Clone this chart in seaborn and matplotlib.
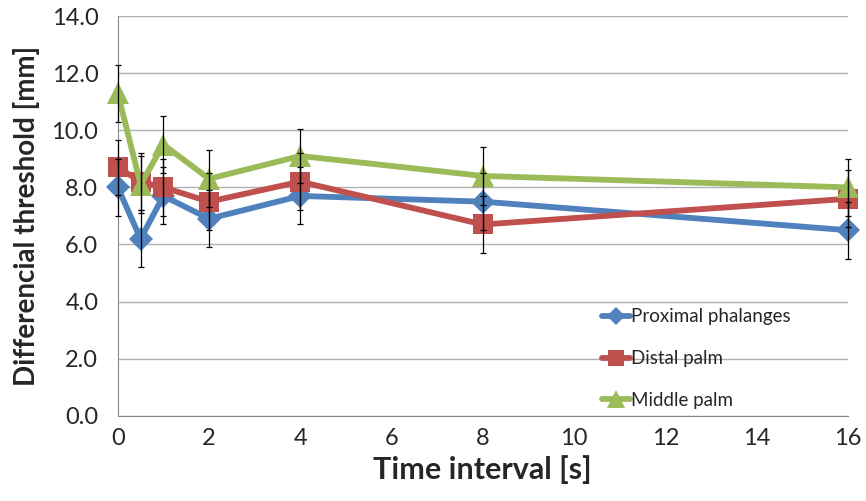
import pandas as pd
import numpy as np
import seaborn as sns
import matplotlib.pyplot as plt
from matplotlib.lines import Line2D

# time intervals [s]
time_s = [0, 0.5, 1, 2, 4, 8, 16]
proximal = [8.0, 6.2, 7.7, 6.9, 7.7, 7.5, 6.5]
distal = [8.7, 8.2, 8.0, 7.5, 8.2, 6.7, 7.6]
middle = [11.3, 8.1, 9.5, 8.3, 9.1, 8.4, 8.0]
proximal_err = [1.0, 1.0, 1.0, 1.0, 1.0, 1.0, 1.0]
distal_err = [0.95, 1.0, 1.0, 1.0, 1.0, 1.0, 1.0]
middle_err = [1.0, 1.0, 1.0, 1.0, 0.95, 1.0, 1.0]
series = ['Proximal phalanges', 'Distal palm', 'Middle palm']

colors = {'Proximal phalanges': '#4F81BD', 'Distal palm': '#C0504D', 'Middle palm': '#9BBB59'}
markers = {'Proximal phalanges': 'D', 'Distal palm': 's', 'Middle palm': '^'}
msizes = {'Proximal phalanges': 12, 'Distal palm': 14, 'Middle palm': 16}

df = pd.DataFrame({
    'time': time_s * 3,
    'value': proximal + distal + middle,
    'err': proximal_err + distal_err + middle_err,
    'series': [s for s in series for _ in time_s],
})

sns.set_style('white')
plt.rcParams['font.family'] = ['Lato', 'DejaVu Sans']

fig = plt.figure(figsize=(8.66, 5.01), dpi=100)
ax = fig.add_axes([0.136, 0.170, 0.843, 0.798])

sns.lineplot(data=df, x='time', y='value', hue='series', style='series',
             palette=colors, markers=markers, dashes=False, linewidth=4.2,
             markersize=12, markeredgewidth=0, ax=ax, legend=False, zorder=3)
# fix marker sizes per series, don't clip at the edges
for line, s in zip(ax.get_lines(), series):
    line.set_markersize(msizes[s])
    line.set_clip_on(False)

for s in series:
    sub = df[df['series'] == s]
    ax.errorbar(sub['time'], sub['value'], yerr=sub['err'], fmt='none',
                ecolor='black', elinewidth=0.9, capsize=2.5, capthick=0.9, zorder=4,
                clip_on=False)

ax.set_xlim(0, 16)
ax.set_ylim(0, 14)
ax.set_xticks(range(0, 17, 2))
ax.set_yticks(np.arange(0, 14.1, 2))
ax.set_yticklabels([f'{v:.1f}' for v in np.arange(0, 14.1, 2)])
ax.yaxis.grid(True, color='#b0b0b0', linewidth=1)
ax.set_axisbelow(True)
for sp in ['top', 'right']:
    ax.spines[sp].set_visible(False)
for sp in ['left', 'bottom']:
    ax.spines[sp].set_color('#888888')
ax.tick_params(axis='both', labelsize=17, length=0, left=True, bottom=True)
ax.tick_params(axis='y', pad=14)
ax.tick_params(axis='x', pad=9)
ax.set_xlabel('Time interval [s]', fontsize=22, fontweight='bold', labelpad=4)
ax.set_ylabel('Differencial threshold [mm]', fontsize=20, fontweight='bold', labelpad=8)

handles = [Line2D([0], [0], color=colors[s], marker=markers[s], markersize=msizes[s] * 0.8,
                  linewidth=4.2, markeredgewidth=0) for s in series]
ax.legend(handles, series, loc='lower left', bbox_to_anchor=(0.64, -0.025), frameon=False,
          fontsize=13.5, handlelength=1.5, handletextpad=0.05, labelspacing=1.32)

fig.savefig('out.png', dpi=100)
